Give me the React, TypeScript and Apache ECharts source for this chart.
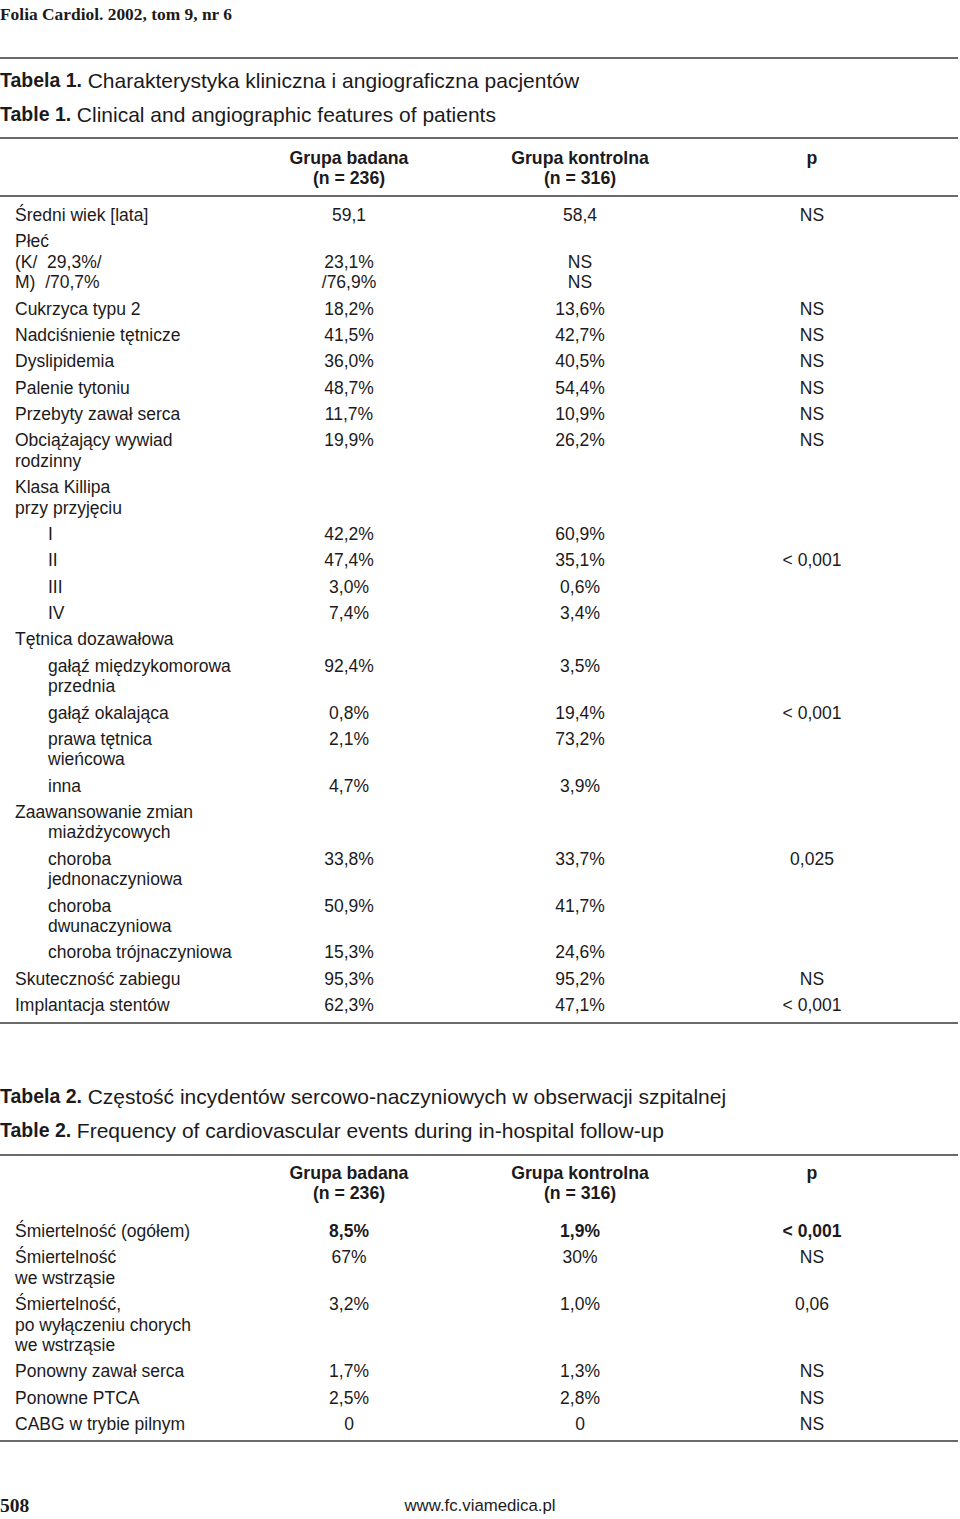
import React, { useEffect, useRef } from "react";
import * as echarts from "echarts";

// ---------- DATA ----------
const journalHeader = "Folia Cardiol. 2002, tom 9, nr 6";
const pageNumber = "508";
const website = "www.fc.viamedica.pl";

const t1TitlePl = ["Tabela 1.", "Charakterystyka kliniczna i angiograficzna pacjentów"];
const t1TitleEn = ["Table 1.", "Clinical and angiographic features of patients"];
const t2TitlePl = ["Tabela 2.", "Częstość incydentów sercowo-naczyniowych w obserwacji szpitalnej"];
const t2TitleEn = ["Table 2.", "Frequency of cardiovascular events during in-hospital follow-up"];

const colHeaders = ["Grupa badana\n(n = 236)", "Grupa kontrolna\n(n = 316)", "p"];

// indent: 0 = none, 1 = all lines indented, 2 = continuation lines indented
const t1Labels = [
  "Średni wiek [lata]",
  "Płeć\n(K/  29,3%/\nM)  /70,7%",
  "Cukrzyca typu 2",
  "Nadciśnienie tętnicze",
  "Dyslipidemia",
  "Palenie tytoniu",
  "Przebyty zawał serca",
  "Obciążający wywiad\nrodzinny",
  "Klasa Killipa\nprzy przyjęciu",
  "I",
  "II",
  "III",
  "IV",
  "Tętnica dozawałowa",
  "gałąź międzykomorowa\nprzednia",
  "gałąź okalająca",
  "prawa tętnica\nwieńcowa",
  "inna",
  "Zaawansowanie zmian\nmiażdżycowych",
  "choroba\njednonaczyniowa",
  "choroba\ndwunaczyniowa",
  "choroba trójnaczyniowa",
  "Skuteczność zabiegu",
  "Implantacja stentów",
];
const t1Indent = [0, 0, 0, 0, 0, 0, 0, 0, 0, 1, 1, 1, 1, 0, 1, 1, 1, 1, 2, 1, 1, 1, 0, 0];
const t1Badana = [
  "59,1", "\n23,1%\n/76,9%", "18,2%", "41,5%", "36,0%", "48,7%", "11,7%", "19,9%", "",
  "42,2%", "47,4%", "3,0%", "7,4%", "", "92,4%", "0,8%", "2,1%", "4,7%", "",
  "33,8%", "50,9%", "15,3%", "95,3%", "62,3%",
];
const t1Kontrolna = [
  "58,4", "\nNS\nNS", "13,6%", "42,7%", "40,5%", "54,4%", "10,9%", "26,2%", "",
  "60,9%", "35,1%", "0,6%", "3,4%", "", "3,5%", "19,4%", "73,2%", "3,9%", "",
  "33,7%", "41,7%", "24,6%", "95,2%", "47,1%",
];
const t1P = [
  "NS", "", "NS", "NS", "NS", "NS", "NS", "NS", "",
  "", "< 0,001", "", "", "", "", "< 0,001", "", "", "",
  "0,025", "", "", "NS", "< 0,001",
];

const t2Labels = [
  "Śmiertelność (ogółem)",
  "Śmiertelność\nwe wstrząsie",
  "Śmiertelność,\npo wyłączeniu chorych\nwe wstrząsie",
  "Ponowny zawał serca",
  "Ponowne PTCA",
  "CABG w trybie pilnym",
];
const t2Bold = [true, false, false, false, false, false];
const t2Badana = ["8,5%", "67%", "3,2%", "1,7%", "2,5%", "0"];
const t2Kontrolna = ["1,9%", "30%", "1,0%", "1,3%", "2,8%", "0"];
const t2P = ["< 0,001", "NS", "0,06", "NS", "NS", "NS"];

// ---------- LAYOUT ----------
const W = 960;
const H = 1519;
const SANS = "'Liberation Sans', Arial, Helvetica, sans-serif";
const SERIF = "'Liberation Serif', 'Times New Roman', serif";
const INK = "#1c1a1b";
const RULE = "#6a6a6a";
const FS = 17.5;
const FS_HEAD = 17.7;
const ROW = 26.35;
const LINE = 20.45;
const X_LABEL = 15;
const X_INDENT = 48;
const X_C1 = 349;
const X_C2 = 580;
const X_C3 = 812;

function txt(text: string, x: number, y: number, font: string, align = "left") {
  return {
    type: "text",
    x,
    y,
    silent: true,
    style: {
      text,
      font,
      fill: INK,
      textAlign: align,
      align,
      textVerticalAlign: "middle",
      verticalAlign: "middle",
    },
  };
}

function rule(y: number) {
  return {
    type: "line",
    silent: true,
    shape: { x1: 0, y1: y, x2: 958, y2: y },
    style: { stroke: RULE, lineWidth: 2 },
  };
}

function caption(parts: string[], y: number) {
  return {
    type: "text",
    x: 0,
    y,
    silent: true,
    style: {
      text: `{b|${parts[0]}} {r|${parts[1]}}`,
      font: `20.5px ${SANS}`,
      fill: INK,
      textVerticalAlign: "middle",
      verticalAlign: "middle",
      rich: {
        b: { font: `bold 19.5px ${SANS}`, fill: INK },
        r: { font: `21px ${SANS}`, fill: INK },
      },
    },
  };
}

function multi(text: string, x: number, y: number, font: string, align: string, indentMode = 0) {
  const out: any[] = [];
  text.split("\n").forEach((ln, i) => {
    if (!ln) return;
    let xx = x;
    if (indentMode === 1) xx = X_INDENT;
    if (indentMode === 2 && i > 0) xx = X_INDENT;
    out.push(txt(ln, xx, y + i * LINE, font, align));
  });
  return out;
}

function header(y: number) {
  const f = `bold ${FS_HEAD}px ${SANS}`;
  return [
    ...multi(colHeaders[0], X_C1, y, f, "center"),
    ...multi(colHeaders[1], X_C2, y, f, "center"),
    ...multi(colHeaders[2], X_C3, y, f, "center"),
  ];
}

function body(
  labels: string[], c1: string[], c2: string[], c3: string[], startY: number,
  indent: number[] | null, bold: boolean[] | null
) {
  const out: any[] = [];
  let y = startY;
  labels.forEach((lab, i) => {
    const fVal = `${bold && bold[i] ? "bold " : ""}${FS}px ${SANS}`;
    const fLab = `${FS}px ${SANS}`;
    out.push(...multi(lab, X_LABEL, y, fLab, "left", indent ? indent[i] : 0));
    out.push(...multi(c1[i], X_C1, y, fVal, "center"));
    out.push(...multi(c2[i], X_C2, y, fVal, "center"));
    out.push(...multi(c3[i], X_C3, y, fVal, "center"));
    const n = Math.max(
      lab.split("\n").length, c1[i].split("\n").length,
      c2[i].split("\n").length, c3[i].split("\n").length
    );
    y += ROW + (n - 1) * LINE;
  });
  return out;
}

export default function App() {
  const ref = useRef<HTMLDivElement>(null);
  useEffect(() => {
    if (!ref.current) return;
    const chart = echarts.init(ref.current, undefined, { renderer: "svg", width: W, height: H });
    const elements: any[] = [
      txt(journalHeader, 0, 14, `bold 17.4px ${SERIF}`),
      rule(58),
      caption(t1TitlePl, 80),
      caption(t1TitleEn, 114),
      rule(138),
      ...header(158),
      rule(196),
      ...body(t1Labels, t1Badana, t1Kontrolna, t1P, 215, t1Indent, null),
      rule(1023),
      caption(t2TitlePl, 1096),
      caption(t2TitleEn, 1130),
      rule(1155),
      ...header(1173),
      ...body(t2Labels, t2Badana, t2Kontrolna, t2P, 1231, null, t2Bold),
      rule(1441),
      txt(pageNumber, 0, 1505, `bold 19.5px ${SERIF}`),
      txt(website, 480, 1505, `16.8px ${SANS}`, "center"),
    ];
    chart.setOption({
      animation: false,
      backgroundColor: "#ffffff",
      graphic: { elements },
    });
    return () => chart.dispose();
  }, []);
  return (
    <div
      ref={ref}
      style={{ position: "absolute", left: 0, top: 0, width: W, height: H, background: "#fff" }}
    />
  );
}
